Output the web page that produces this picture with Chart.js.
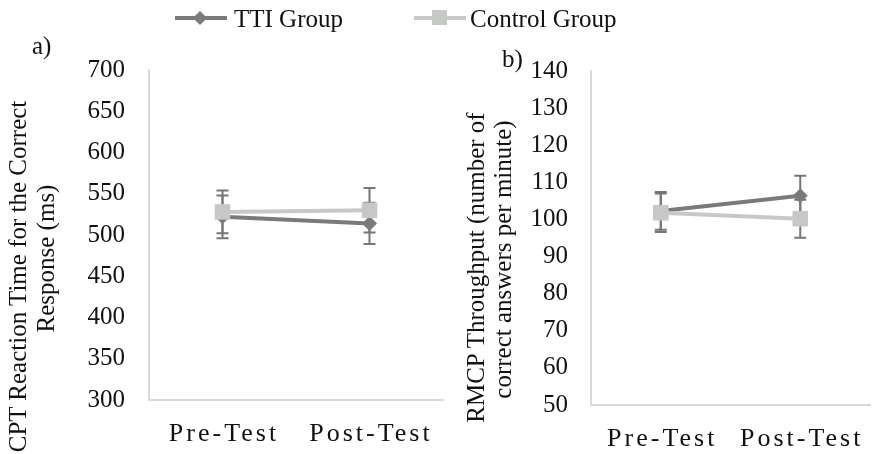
<!DOCTYPE html>
<html>
<head>
<meta charset="utf-8">
<script src="https://cdn.jsdelivr.net/npm/chart.js@4.4.1/dist/chart.umd.min.js"></script>
<style>
  body { margin: 0; background: #fff; }
  #wrap { position: relative; width: 881px; height: 454px; overflow: hidden; font-family: 'Liberation Serif', serif; color: #111; }
  canvas { position: absolute; top: 0; }
  .txt { position: absolute; font-size: 25px; line-height: 25px; white-space: nowrap; }
  .rot { position: absolute; width: 500px; height: 29px; line-height: 29px; font-size: 25px; text-align: center; white-space: nowrap; transform: rotate(-90deg); }
  .lg-line { position: absolute; height: 4px; }
</style>
</head>
<body>
<div id="wrap">
  <canvas id="chart-cpt" width="460" height="454" style="left:0"></canvas>
  <canvas id="chart-rmcp" width="421" height="454" style="left:460px"></canvas>

  <!-- leyenda -->
  <div class="lg-line" style="left:175px; top:16px; width:52px; background:#7a7a7a"></div>
  <div style="position:absolute; left:195px; top:13px; width:10px; height:10px; background:#7a7a7a; transform:rotate(45deg)"></div>
  <div class="txt" id="lg-tti" style="left:234px; top:6px"></div>
  <div class="lg-line" style="left:414px; top:16px; width:52px; background:#c8c8c8"></div>
  <div style="position:absolute; left:432px; top:10px; width:15px; height:15px; background:#c6c8c6"></div>
  <div class="txt" id="lg-ctrl" style="left:470px; top:6px"></div>

  <div class="txt" style="left:32px; top:33px">a)</div>
  <div class="txt" style="left:502px; top:46px">b)</div>

  <div class="rot" style="left:-233px; top:262px">CPT Reaction Time for the Correct</div>
  <div class="rot" style="left:-205px; top:244px">Response (ms)</div>
  <div class="rot" style="left:225px; top:253px">RMCP Throughput (number of</div>
  <div class="rot" style="left:252px; top:245px">correct answers per minute)</div>
</div>

<script>
// datos
const grupos = ['TTI Group', 'Control Group'];
const fases = ['Pre-Test', 'Post-Test'];

const cptTti = [522, 514];
const cptTtiErr = [26, 25];
const cptControl = [528, 530];
const cptControlErr = [26, 27];
const cptTicks = { min: 300, max: 700, step: 50 };

const rmcpTti = [102.3, 106.4];
const rmcpTtiErr = [5.1, 5.4];
const rmcpControl = [101.8, 100.2];
const rmcpControlErr = [5.2, 5.1];
const rmcpTicks = { min: 50, max: 140, step: 10 };

const colorTti = '#7a7a7a';
const colorControl = '#c8c8c8';
const colorBarra = '#767676';

document.getElementById('lg-tti').textContent = grupos[0];
document.getElementById('lg-ctrl').textContent = grupos[1];

Chart.defaults.font.family = "'Liberation Serif', serif";
Chart.defaults.font.size = 25;
Chart.defaults.color = '#111';

// barras de error debajo de los marcadores
const errorBars = {
  id: 'errorBars',
  beforeDatasetsDraw(chart) {
    const ctx = chart.ctx;
    const y = chart.scales.y;
    ctx.save();
    ctx.strokeStyle = colorBarra;
    ctx.lineWidth = 2;
    chart.data.datasets.forEach((ds, di) => {
      const meta = chart.getDatasetMeta(di);
      meta.data.forEach((pt, i) => {
        const v = ds.data[i], e = ds.errores[i];
        const top = y.getPixelForValue(v + e);
        const bot = y.getPixelForValue(v - e);
        ctx.beginPath();
        ctx.moveTo(pt.x, top); ctx.lineTo(pt.x, bot);
        ctx.moveTo(pt.x - 6, top); ctx.lineTo(pt.x + 6, top);
        ctx.moveTo(pt.x - 6, bot); ctx.lineTo(pt.x + 6, bot);
        ctx.stroke();
      });
    });
    ctx.restore();
  }
};

// etiquetas del eje x con espaciado de letras
const etiquetasX = {
  id: 'etiquetasX',
  afterDraw(chart, args, opts) {
    const ctx = chart.ctx;
    const x = chart.scales.x;
    ctx.save();
    ctx.font = "26px 'Liberation Serif', serif";
    ctx.fillStyle = '#111';
    ctx.textAlign = 'center';
    ctx.textBaseline = 'alphabetic';
    ctx.letterSpacing = '3px';
    chart.data.labels.forEach((lab, i) => {
      ctx.fillText(lab, x.getPixelForTick(i) + 1.5, opts.baseline);
    });
    ctx.restore();
  }
};

function crearGrafico(id, tti, ttiErr, control, controlErr, ticks, cfg) {
  return new Chart(document.getElementById(id), {
    type: 'line',
    data: {
      labels: fases,
      datasets: [{
        label: grupos[0],
        data: tti,
        errores: ttiErr,
        borderColor: colorTti,
        backgroundColor: colorTti,
        borderWidth: 4,
        pointStyle: 'rectRot',
        pointRadius: 7.5,
        pointBorderWidth: 0,
        order: 1
      }, {
        label: grupos[1],
        data: control,
        errores: controlErr,
        borderColor: colorControl,
        backgroundColor: '#c6c8c6',
        borderWidth: 4,
        pointStyle: 'rect',
        pointRadius: 11,
        pointBorderWidth: 0,
        order: 0
      }]
    },
    options: {
      responsive: false,
      animation: false,
      layout: { padding: cfg.padding },
      plugins: {
        legend: { display: false },
        tooltip: { enabled: false },
        etiquetasX: { baseline: cfg.baseline }
      },
      scales: {
        x: {
          offset: true,
          grid: { display: false, drawTicks: false },
          border: { color: '#d9d9d9', width: 2 },
          ticks: { display: false },
          afterFit: s => { s.height = cfg.xHeight; }
        },
        y: {
          min: ticks.min,
          max: ticks.max,
          grid: { display: false, drawTicks: false },
          border: { color: '#d9d9d9', width: 2 },
          ticks: { stepSize: ticks.step, padding: cfg.tickPad, color: '#111' },
          afterFit: s => { s.width = cfg.yWidth; }
        }
      }
    },
    plugins: [errorBars, etiquetasX]
  });
}

crearGrafico('chart-cpt', cptTti, cptTtiErr, cptControl, cptControlErr, cptTicks, {
  padding: { left: 60, top: 70, right: 17, bottom: 0 },
  xHeight: 54, yWidth: 89, tickPad: 24, baseline: 441
});

crearGrafico('chart-rmcp', rmcpTti, rmcpTtiErr, rmcpControl, rmcpControlErr, rmcpTicks, {
  padding: { left: 61, top: 71, right: 0, bottom: 0 },
  xHeight: 49, yWidth: 70, tickPad: 23, baseline: 446
});
</script>
</body>
</html>
